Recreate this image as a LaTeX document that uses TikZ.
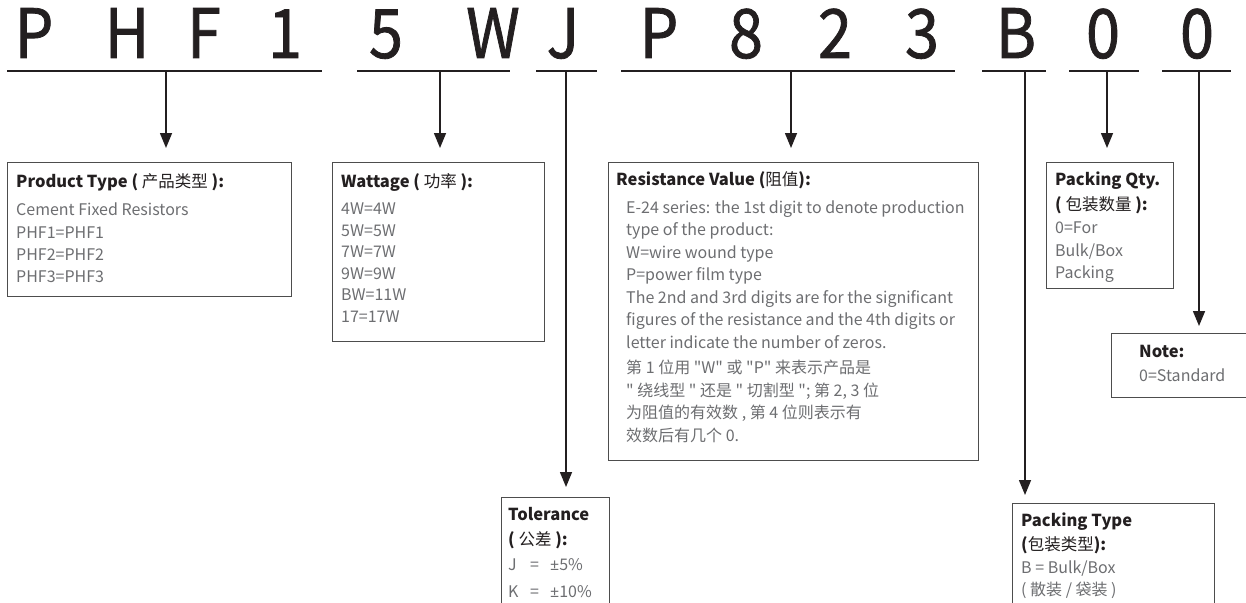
\documentclass[tikz,border=0pt]{standalone}
\usepackage{fontspec}
\setmainfont{Noto Sans CJK SC}[Ligatures=TeXOff]
\newfontfamily\bigfont{Noto Sans CJK SC}[FakeBold=1.2]
\newfontfamily\latfont{Noto Sans}
\usetikzlibrary{arrows.meta}
\definecolor{ink}{HTML}{231F20}
\definecolor{bodyc}{HTML}{6D6E71}
\definecolor{boxc}{HTML}{4D4D4D}
\newcommand{\bigch}[1]{\scalebox{0.9}[1]{#1}}
\newcommand{\zh}[1]{{\mdseries #1}}
\tikzset{
  big/.style={font=\bigfont\fontsize{68}{68}\selectfont, text=ink, anchor=base, inner sep=0pt},
  under/.style={draw=ink, line width=1.5pt},
  arr/.style={draw=ink, line width=1.5pt, -{Triangle[width=12pt,length=15pt]}},
  box/.style={draw=boxc, line width=1.1pt, inner sep=0pt, anchor=north west},
  ttl/.style={font=\bfseries\fontsize{16.5}{16.5}\selectfont, text=ink, anchor=base west, inner sep=0pt},
  bd/.style={font=\fontsize{16}{16}\selectfont, text=bodyc, anchor=base west, inner sep=0pt},
}
\begin{document}
\begin{tikzpicture}[x=1pt,y=-1pt]
\clip (0,0) rectangle (1246,602);
\fill[white] (0,0) rectangle (1246,602);
% big letters
\node[big] (L1) at (34,58) {\bigch{P}};
\node[big] (L2) at (127,58) {\bigch{H}};
\node[big] (L3) at (204,58) {\bigch{F}};
\node[big] (L4) at (285,58) {\bigch{1}};
\node[big] (L5) at (386,58) {\bigch{5}};
\node[big] (L6) at (493,58) {\bigch{W}};
\node[big] (L7) at (563,58) {\bigch{J}};
\node[big] (L8) at (659,58) {\bigch{P}};
\node[big] (L9) at (746,58) {\bigch{8}};
\node[big] (L10) at (835,58) {\bigch{2}};
\node[big] (L11) at (922,58) {\bigch{3}};
\node[big] (L12) at (1016,58) {\bigch{B}};
\node[big] (L13) at (1103,58) {\bigch{0}};
\node[big] (L14) at (1197,58) {\bigch{0}};
% underlines
\draw[under] (7,71) -- (322,71);
\draw[under] (357,71) -- (510,71);
\draw[under] (536,71) -- (597,71);
\draw[under] (621,71) -- (955,71);
\draw[under] (982,71) -- (1046,71);
\draw[under] (1069,71) -- (1139,71);
\draw[under] (1162,71) -- (1231,71);
\coordinate (s1) at (166,71);
\coordinate (s2) at (440,71);
\coordinate (s3) at (566,71);
\coordinate (s4) at (791,71);
\coordinate (s5) at (1025,71);
\coordinate (s6) at (1107,71);
\coordinate (s7) at (1199,71);
% boxes
\node[box, minimum width=284pt, minimum height=134pt] (pbox) at (7,162) {};
\node[box, minimum width=212pt, minimum height=179pt] (wbox) at (332,162) {};
\node[box, minimum width=370pt, minimum height=298pt] (rbox) at (608,162) {};
\node[box, minimum width=108pt, minimum height=120pt] (tbox) at (501,497) {};
\node[box, minimum width=127pt, minimum height=126pt] (qbox) at (1046,162) {};
\node[box, minimum width=150pt, minimum height=64pt] (nbox) at (1111,333) {};
\node[box, minimum width=202pt, minimum height=120pt] (kbox) at (1012,503) {};
% arrows
\draw[arr, shorten >=14pt] (s1) -- (s1 |- pbox.north);
\draw[arr, shorten >=14pt] (s2) -- (s2 |- wbox.north);
\draw[arr, shorten >=10pt] (s3) -- (s3 |- tbox.north);
\draw[arr, shorten >=14pt] (s4) -- (s4 |- rbox.north);
\draw[arr, shorten >=8pt] (s5) -- (s5 |- kbox.north);
\draw[arr, shorten >=14pt] (s6) -- (s6 |- qbox.north);
\draw[arr, shorten >=7pt] (s7) -- (s7 |- nbox.north);
% product type
\node[ttl] (p0) at (16,187) {Product Type ( \zh{产品类型} ):};
\node[bd] (p1) at (16,215) {Cement Fixed Resistors};
\node[bd] (p2) at (16,238) {PHF1=PHF1};
\node[bd] (p3) at (16,260) {PHF2=PHF2};
\node[bd] (p4) at (16,282) {PHF3=PHF3};
% wattage
\node[ttl] (w0) at (341,187) {Wattage ( \zh{功率} ):};
\node[bd] (w1) at (341,214) {4W=4W};
\node[bd] (w2) at (341,236) {5W=5W};
\node[bd] (w3) at (341,257) {7W=7W};
\node[bd] (w4) at (341,279) {9W=9W};
\node[bd] (w5) at (341,300) {BW=11W};
\node[bd] (w6) at (341,322) {17=17W};
% resistance
\node[ttl] (r0) at (616,185) {Resistance Value (\zh{阻值}):};
\node[bd] (r1) at (626,213) {E-24 series: the 1st digit to denote production};
\node[bd] (r2) at (626,235.5) {type of the product:};
\node[bd] (r3) at (626,258) {W=wire wound type};
\node[bd] (r4) at (626,280.5) {P=power film type};
\node[bd] (r5) at (626,303) {The 2nd and 3rd digits are for the significant};
\node[bd] (r6) at (626,325.5) {figures of the resistance and the 4th digits or};
\node[bd] (r7) at (626,348) {letter indicate the number of zeros.};
\node[bd] (r8) at (626,373) {第 1 位用 "W" 或 "P" 来表示产品是};
\node[bd] (r9) at (626,396) {" 绕线型 " 还是 " 切割型 "; 第 2, 3 位};
\node[bd] (r10) at (626,418.5) {为阻值的有效数 , 第 4 位则表示有};
\node[bd] (r11) at (626,441) {效数后有几个 0.};
% tolerance
\node[ttl] (t0) at (508,520) {Tolerance};
\node[ttl] (t1) at (508,545) {( \zh{公差} ):};
\node[bd] (t2) at (508,570) {\makebox[22pt][l]{J}\makebox[20pt][l]{=}{\latfont ±}5\%};
\node[bd] (t3) at (508,597) {\makebox[22pt][l]{K}\makebox[20pt][l]{=}{\latfont ±}10\%};
% packing qty
\node[ttl] (q0) at (1055,185) {Packing Qty.};
\node[ttl] (q1) at (1055,210) {( \zh{包装数量} ):};
\node[bd] (q2) at (1055,233) {0=For};
\node[bd] (q3) at (1055,256) {Bulk/Box};
\node[bd] (q4) at (1055,278) {Packing};
% note
\node[ttl] (n0) at (1139,357) {Note:};
\node[bd] (n1) at (1139,381) {0=Standard};
% packing type
\node[ttl] (k0) at (1021,526) {Packing Type};
\node[ttl] (k1) at (1021,550) {(\zh{包装类型}):};
\node[bd] (k2) at (1021,573) {B = Bulk/Box};
\node[bd] (k3) at (1021,595) {( 散装 / 袋装 )};
\end{tikzpicture}
\end{document}
